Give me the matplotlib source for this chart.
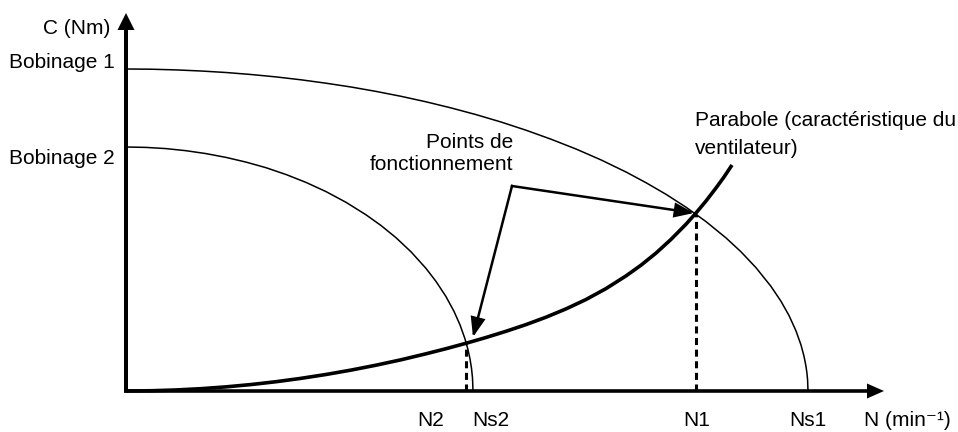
import matplotlib
matplotlib.use('Agg')
import matplotlib.pyplot as plt

plt.rcParams['font.family'] = ['Liberation Sans', 'DejaVu Sans']

# ---- data (arbitrary units) ----
# Bobinage 1 torque curve
n_bob1 = [0, 25, 50, 75, 100, 125, 150, 175, 200, 225, 250, 275, 300, 325, 350,
          375, 400, 425, 450, 475, 500, 520, 540, 560, 580, 600, 615, 630, 645,
          655, 663, 670, 675, 678, 680, 681, 681.6, 682]
c_bob1 = [322, 321.8, 321.1, 320.0, 318.5, 316.5, 314.1, 311.2, 307.8, 304.0,
          299.6, 294.7, 289.2, 283.1, 276.4, 269.0, 260.8, 251.8, 242.0, 231.1,
          219.0, 208.3, 196.7, 183.8, 169.4, 153.1, 139.2, 123.3, 104.6, 89.7,
          75.5, 60.1, 46.0, 34.8, 24.6, 17.4, 11.0, 0]
# Bobinage 2 torque curve
n_bob2 = [0, 20, 40, 60, 80, 100, 120, 140, 160, 180, 200, 220, 240, 255, 270,
          285, 300, 310, 320, 328, 334, 339, 342, 344, 345.5, 346.5, 347]
c_bob2 = [244, 243.6, 242.4, 240.3, 237.4, 233.6, 228.9, 223.3, 216.5, 208.6,
          199.4, 188.7, 176.2, 165.5, 153.3, 139.2, 122.6, 109.6, 94.4, 79.6,
          66.2, 52.1, 41.3, 32.0, 22.7, 13.1, 0]
# Fan characteristic (parabola)
n_fan = [0, 25, 50, 75, 100, 125, 150, 175, 200, 225, 250, 275, 300, 320, 341,
         360, 380, 400, 420, 440, 460, 480, 500, 515, 530, 545, 560, 570, 580,
         590, 598, 606]
c_fan = [0, 0.26, 1.03, 2.32, 4.13, 6.45, 9.29, 12.65, 16.52, 20.9, 25.8, 31.2,
         37.2, 42.3, 48.0, 53.5, 59.7, 66.4, 73.8, 82.1, 91.5, 102.4, 115.1,
         125.8, 137.9, 151.6, 166.8, 178.0, 190.0, 203.0, 214.0, 226.0]
# Operating points (N2, N1)
n_op = [340, 570]
c_op = [47.5, 177.5]

x_labels = ['N2', 'Ns2', 'N1', 'Ns1']
x_label_pos = [305, 365, 571, 682]
y_labels = ['C (Nm)', 'Bobinage 1', 'Bobinage 2']
y_label_pos = [363, 328, 233]

fig = plt.figure(figsize=(9.58, 4.32), dpi=100)
ax = fig.add_axes([0, 0, 1, 1])
ax.set_xlim(-126, 832)
ax.set_ylim(-41, 391)
ax.axis('off')

FS = 15

# curves
ax.plot(n_bob1, c_bob1, color='black', lw=1.1, solid_capstyle='butt',
        solid_joinstyle='round')
ax.plot(n_bob2, c_bob2, color='black', lw=1.1, solid_capstyle='butt',
        solid_joinstyle='round')
ax.plot(n_fan, c_fan, color='black', lw=2.6, solid_capstyle='butt',
        solid_joinstyle='round')

# dashed verticals at operating points
for n, c in zip(n_op, c_op):
    ax.plot([n, n], [0, c], color='black', lw=2.2, ls=(0, (2.3, 1.5)))

# axes arrows
ax.arrow(0, -1.5, 0, 379.5, width=4, head_width=17, head_length=17,
         length_includes_head=True, color='black', lw=0)
ax.arrow(-2, 0, 760, 0, width=3.6, head_width=15, head_length=17,
         length_includes_head=True, color='black', lw=0)

# annotation arrows for "Points de fonctionnement"
vertex = (386, 205)
tips = [(n_op[1] - 2, c_op[1] + 0.5), (347, 54)]
for t in tips:
    ax.annotate('', xy=t, xytext=vertex,
                arrowprops=dict(arrowstyle='-|>,head_length=0.8,head_width=0.3',
                                lw=1.8, color='black', mutation_scale=14,
                                shrinkA=0, shrinkB=0, joinstyle='miter',
                                capstyle='projecting'))

# texts
for lab, y in zip(y_labels, y_label_pos):
    xr = -16 if lab.startswith('C') else -11
    ax.text(xr, y, lab, ha='right', va='center', fontsize=FS)
for lab, x in zip(x_labels, x_label_pos):
    ax.text(x, -30, lab, ha='center', va='center', fontsize=FS)
ax.text(738, -30, 'N (min\u207b\u00b9)', ha='left', va='center', fontsize=FS)

ax.text(387, 249, 'Points de', ha='right', va='center', fontsize=FS)
ax.text(387, 226, 'fonctionnement', ha='right', va='center', fontsize=FS)
ax.text(569, 271, 'Parabole (caractéristique du', ha='left', va='center', fontsize=FS)
ax.text(569, 243, 'ventilateur)', ha='left', va='center', fontsize=FS)

fig.savefig('out.png', dpi=100)
